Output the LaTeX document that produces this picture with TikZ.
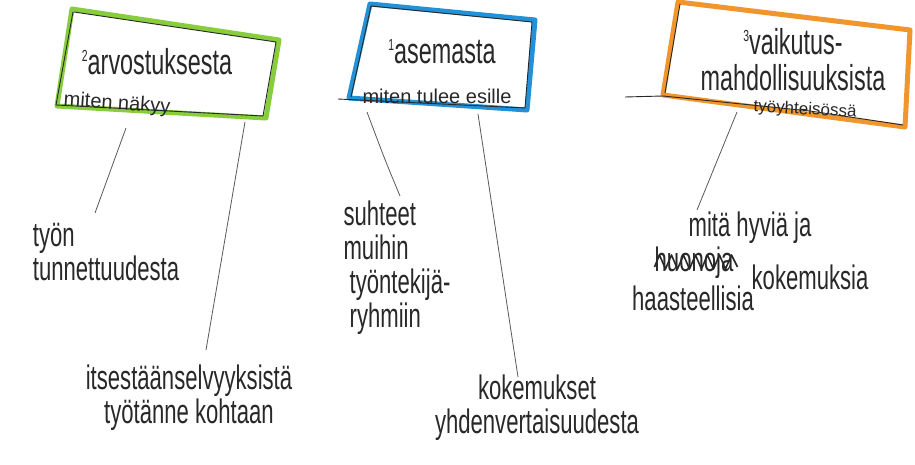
\documentclass[tikz,border=0pt]{standalone}
\usepackage{fontspec}
\setmainfont{Liberation Sans}[FakeStretch=0.65]
\newfontfamily\smallhand{Liberation Sans}[FakeStretch=1.0]
\definecolor{mkgreen}{RGB}{135,205,60}
\definecolor{mkblue}{RGB}{35,145,215}
\definecolor{mkorange}{RGB}{240,150,45}
\definecolor{ink}{RGB}{40,40,40}
\newcommand{\supnum}[1]{\raisebox{13pt}{\fontsize{16}{16}\selectfont #1}}
\tikzset{
 marker/.style={line width=5pt, line join=round, line cap=round},
 outline/.style={ink, line width=0.9pt, line join=round},
 title/.style={ink, font=\fontsize{36}{36}\selectfont, inner sep=0pt, align=center},
 sub/.style={ink, font=\smallhand\fontsize{20}{20}\selectfont, inner sep=0pt},
 label/.style={ink, font=\fontsize{34}{34}\selectfont, inner sep=0pt},
 conn/.style={black!65, line width=0.8pt},
}
\begin{document}
\begin{tikzpicture}[x=1pt,y=-1pt]
\useasboundingbox (0,0) rectangle (915,465);
\fill[white] (0,0) rectangle (915,465);

% ---- box 1 (green)
\coordinate (g1) at (72,9);
\coordinate (g2) at (279,40);
\coordinate (g3) at (266,118);
\coordinate (g4) at (57,106);
\draw[marker, mkgreen] (g1) -- (g2) -- (g3) -- (g4) -- cycle;
\draw[outline] (74,12) -- (276,42) -- (263,116) -- (56,105) -- (73,12);
\node[title] (t1) at (157,62) {\supnum{2}arvostuksesta};
\node[sub, rotate=-4] (s1) at (117,104) {miten näkyy};

% ---- box 2 (blue)
\coordinate (b1) at (370,4);
\coordinate (b2) at (535,20);
\coordinate (b3) at (527,110);
\coordinate (b4) at (349,98);
\draw[marker, mkblue] (b1) -- (b2) -- (b3) -- (b4) -- cycle;
\draw[outline] (338,99) -- (525,108) -- (532,22) -- (371,6) -- (351,97);
\node[title] (t2) at (442,52) {\supnum{1}asemasta};
\node[sub] (s2) at (437,96) {miten tulee esille};

% ---- box 3 (orange)
\coordinate (o1) at (678,2);
\coordinate (o2) at (910,30);
\coordinate (o3) at (905,127);
\coordinate (o4) at (663,95);
\draw[marker, mkorange] (o1) -- (o2) -- (o3) -- (o4) -- cycle;
\draw[outline] (625,97) -- (663,96) -- (810,111) -- (903,125);
\draw[outline] (680,4) -- (665,93);
\node[title] (t3) at (793,60) {\supnum{3}vaikutus-\\mahdollisuuksista};
\node[sub, font=\smallhand\fontsize{17}{17}\selectfont, rotate=-3] (s3) at (805,110) {työyhteisössä};

% ---- labels
\node[label, align=left] (l1) at (106,252) {työn\\tunnettuudesta};
\node[label, align=center] (l2) at (189,398) {itsestäänselvyyksistä\\työtänne kohtaan};
\node[label, align=left] (l3) at (397,268) {suhteet\\muihin\\\ työntekijä-\\\ ryhmiin};
\node[label, align=center] (l4) at (537,408) {kokemukset\\yhdenvertaisuudesta};
\node[label] (l5) at (750,228) {mitä hyviä ja};
\node[label] (l6) at (694,263) {huonoja};
\node[label] (l7) at (810,277) {kokemuksia};
\node[label] (l8) at (693,298) {haasteellisia};
\draw[ink, line width=1.6pt, line join=round] (l6.west) ++(0,4)
  -- ++(5,-12) -- ++(6,14) -- ++(6,-14) -- ++(6,14) -- ++(6,-14) -- ++(6,14)
  -- ++(6,-14) -- ++(6,14) -- ++(6,-14) -- ++(6,14) -- ++(6,-14) -- ++(6,14)
  -- ++(6,-14) -- ++(6,12);

% ---- connectors
\coordinate (c1a) at (126,128);
\coordinate (c1b) at (95,213);
\coordinate (c2a) at (245,122);
\coordinate (c2b) at (206,350);
\coordinate (c3a) at (367,112);
\coordinate (c3b) at (400,196);
\coordinate (c4a) at (478,114);
\coordinate (c4b) at (518,377);
\coordinate (c5a) at (737,112);
\coordinate (c5b) at (697,210);
\draw[conn] (c1a) -- (c1b);
\draw[conn] (c2a) -- (c2b);
\draw[conn] (c3a) .. controls (385,160) .. (c3b);
\draw[conn] (c4a) -- (c4b);
\draw[conn] (c5a) -- (c5b);
\end{tikzpicture}
\end{document}
